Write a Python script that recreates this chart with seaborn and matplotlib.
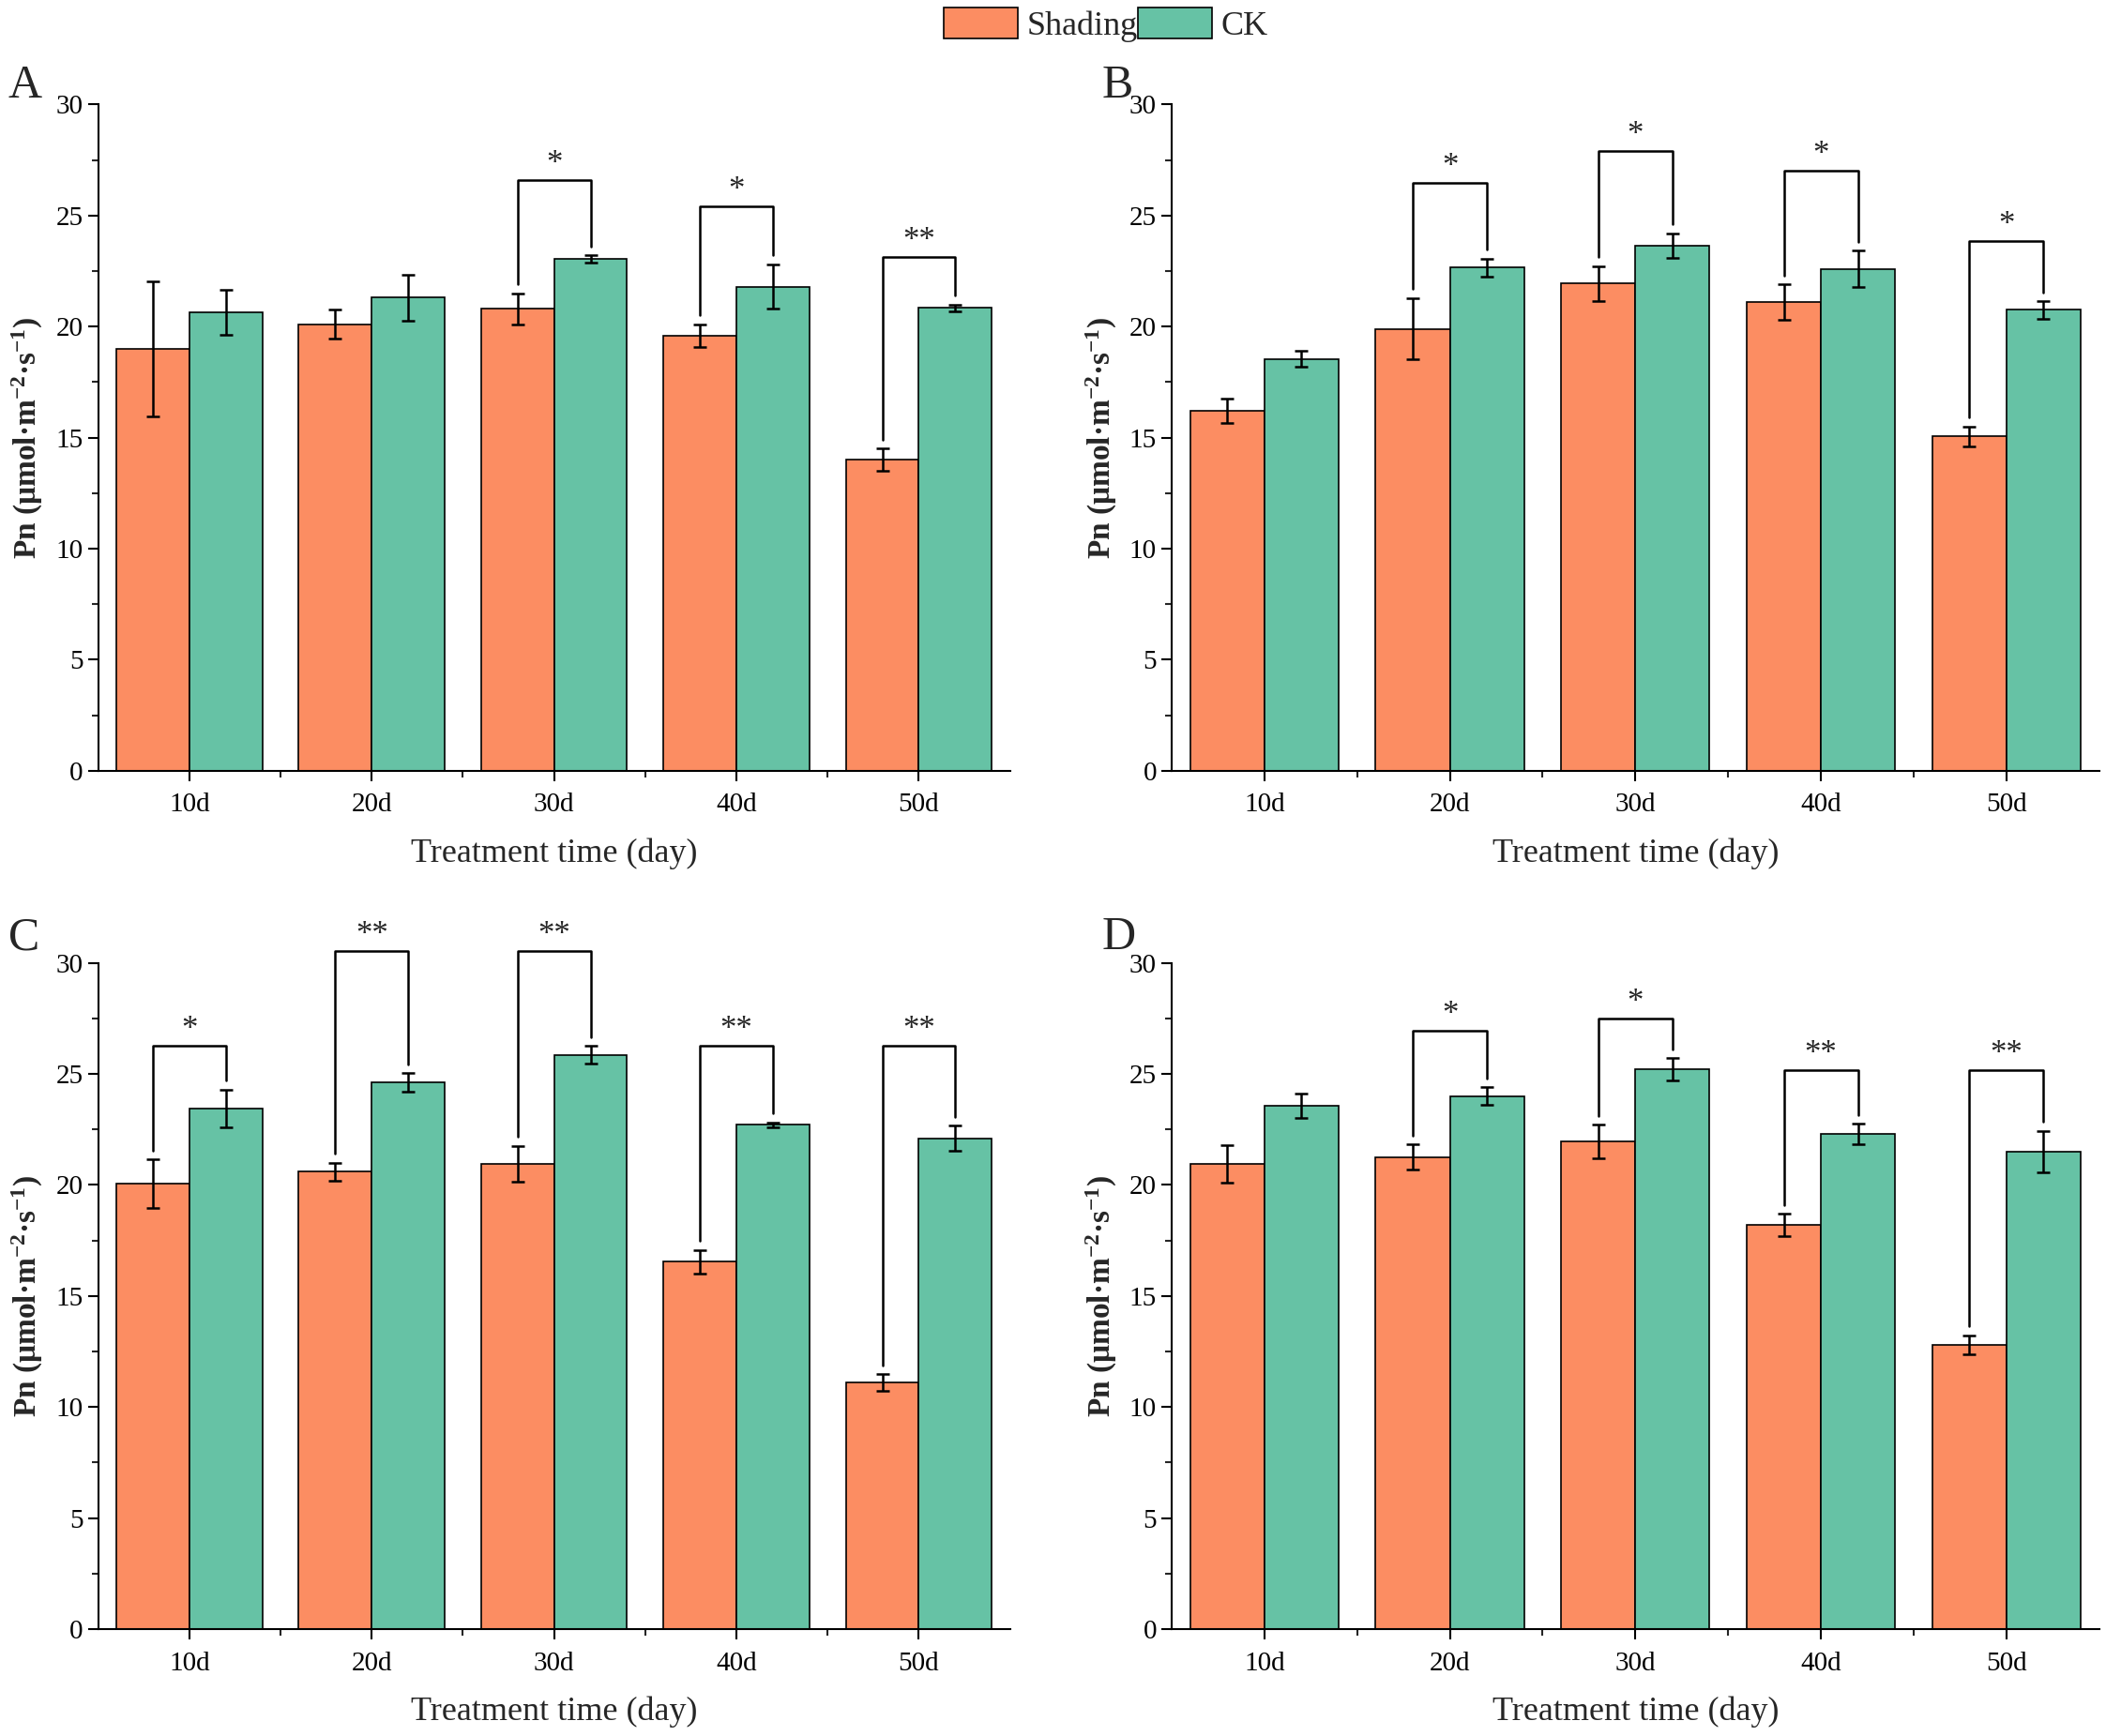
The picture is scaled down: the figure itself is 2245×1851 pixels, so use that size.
import numpy as np
import pandas as pd
import matplotlib
matplotlib.use("Agg")
import matplotlib.pyplot as plt
import seaborn as sns
from matplotlib.patches import Patch
from matplotlib.ticker import MultipleLocator, FixedLocator

# -------------------------
# Data
# -------------------------
days = ["10d", "20d", "30d", "40d", "50d"]
groups = ["Shading", "CK"]
colors = ["#FC8D62", "#66C2A5"]

A_shading = [19.0, 20.1, 20.8, 19.6, 14.0]
A_shading_err = [3.05, 0.65, 0.7, 0.5, 0.5]
A_ck = [20.65, 21.3, 23.05, 21.8, 20.85]
A_ck_err = [1.0, 1.05, 0.15, 1.0, 0.15]
A_bracket = [None, None, 26.6, 25.4, 23.15]
A_marks = ["", "", "*", "*", "**"]

B_shading = [16.2, 19.9, 21.95, 21.1, 15.05]
B_shading_err = [0.55, 1.38, 0.78, 0.8, 0.45]
B_ck = [18.55, 22.65, 23.65, 22.6, 20.75]
B_ck_err = [0.35, 0.42, 0.55, 0.82, 0.4]
B_bracket = [None, 26.45, 27.9, 27.0, 23.85]
B_marks = ["", "*", "*", "*", "*"]

C_shading = [20.05, 20.6, 20.95, 16.55, 11.1]
C_shading_err = [1.1, 0.4, 0.8, 0.53, 0.37]
C_ck = [23.45, 24.6, 25.85, 22.7, 22.1]
C_ck_err = [0.85, 0.42, 0.4, 0.12, 0.57]
C_bracket = [26.25, 30.55, 30.55, 26.25, 26.25]
C_marks = ["*", "**", "**", "**", "**"]

D_shading = [20.95, 21.25, 21.95, 18.2, 12.8]
D_shading_err = [0.83, 0.57, 0.75, 0.5, 0.43]
D_ck = [23.55, 24.0, 25.2, 22.3, 21.5]
D_ck_err = [0.55, 0.4, 0.5, 0.45, 0.93]
D_bracket = [None, 26.95, 27.5, 25.15, 25.15]
D_marks = ["", "*", "*", "**", "**"]

panels = [
    ("A", A_shading, A_shading_err, A_ck, A_ck_err, A_bracket, A_marks),
    ("B", B_shading, B_shading_err, B_ck, B_ck_err, B_bracket, B_marks),
    ("C", C_shading, C_shading_err, C_ck, C_ck_err, C_bracket, C_marks),
    ("D", D_shading, D_shading_err, D_ck, D_ck_err, D_bracket, D_marks),
]

# -------------------------
# Style
# -------------------------
sns.set_style("ticks")
plt.rcParams["font.family"] = ["Liberation Serif", "DejaVu Serif"]
plt.rcParams["mathtext.default"] = "regular"

fig = plt.figure(figsize=(22.45, 18.51), dpi=100)

# axes rectangles [left, bottom, width, height]
rects = [
    [0.0466, 0.556, 0.433, 0.3838],
    [0.5563, 0.556, 0.4405, 0.3838],
    [0.0466, 0.0616, 0.433, 0.3838],
    [0.5563, 0.0616, 0.4405, 0.3838],
]
letter_pos = [(0.004, 0.944), (0.523, 0.944), (0.004, 0.453), (0.523, 0.453)]

for (label, sh, sh_err, ck, ck_err, brk, marks), rect, lp in zip(panels, rects, letter_pos):
    ax = fig.add_axes(rect)
    df = pd.DataFrame({
        "day": days * 2,
        "group": [groups[0]] * len(days) + [groups[1]] * len(days),
        "Pn": sh + ck,
    })
    sns.barplot(data=df, x="day", y="Pn", hue="group", order=days, hue_order=groups,
                palette=colors, edgecolor="black", linewidth=1.2, saturation=1,
                errorbar=None, legend=False, ax=ax)

    # error bars on the bars seaborn drew
    tops = []
    for cont, errs in zip(ax.containers, [sh_err, ck_err]):
        xs = [p.get_x() + p.get_width() / 2 for p in cont.patches]
        hs = [p.get_height() for p in cont.patches]
        ax.errorbar(xs, hs, yerr=errs, fmt="none", ecolor="black",
                    elinewidth=1.8, capsize=5, capthick=1.8, zorder=3)
        tops.append([(x, h + e) for x, h, e in zip(xs, hs, errs)])

    # significance brackets
    for i, (yb, m) in enumerate(zip(brk, marks)):
        if yb is None:
            continue
        (x1, t1), (x2, t2) = tops[0][i], tops[1][i]
        ax.plot([x1, x1, x2, x2], [t1 + 0.4, yb, yb, t2 + 0.4], color="black",
                lw=1.8, clip_on=False, zorder=4)
        ax.text((x1 + x2) / 2, yb + 0.0, m, ha="center", va="bottom",
                fontsize=25, clip_on=False)

    ax.set_xlim(-0.5, 4.5)
    ax.set_ylim(0, 30)
    ax.set_yticks(np.arange(0, 31, 5))
    ax.yaxis.set_minor_locator(MultipleLocator(2.5))
    ax.xaxis.set_minor_locator(FixedLocator([0.5, 1.5, 2.5, 3.5]))
    ax.tick_params(which="major", direction="out", length=8, width=1.5,
                   labelsize=21, colors="black")
    ax.tick_params(axis="x", which="major", pad=9)
    ax.tick_params(which="minor", direction="out", length=5, width=1.5)
    for s in ["left", "bottom"]:
        ax.spines[s].set_linewidth(1.5)
        ax.spines[s].set_color("black")
    sns.despine(ax=ax)
    ax.set_xlabel("Treatment time (day)", fontsize=26, labelpad=16)
    ax.set_ylabel("Pn (μmol·m$^{-2}$·s$^{-1}$)", fontsize=24, fontweight="bold", labelpad=8)

    fig.text(lp[0], lp[1], label, fontsize=36, ha="left", va="baseline")

handles = [Patch(facecolor=c, edgecolor="black", linewidth=1.2) for c in colors]
fig.legend(handles, groups, loc="upper center", bbox_to_anchor=(0.525, 1.013), ncol=2,
           frameon=False, fontsize=26, handlelength=2.2, handleheight=1.0,
           handletextpad=0.25, columnspacing=0.0)

fig.savefig("out.png", dpi=100)
